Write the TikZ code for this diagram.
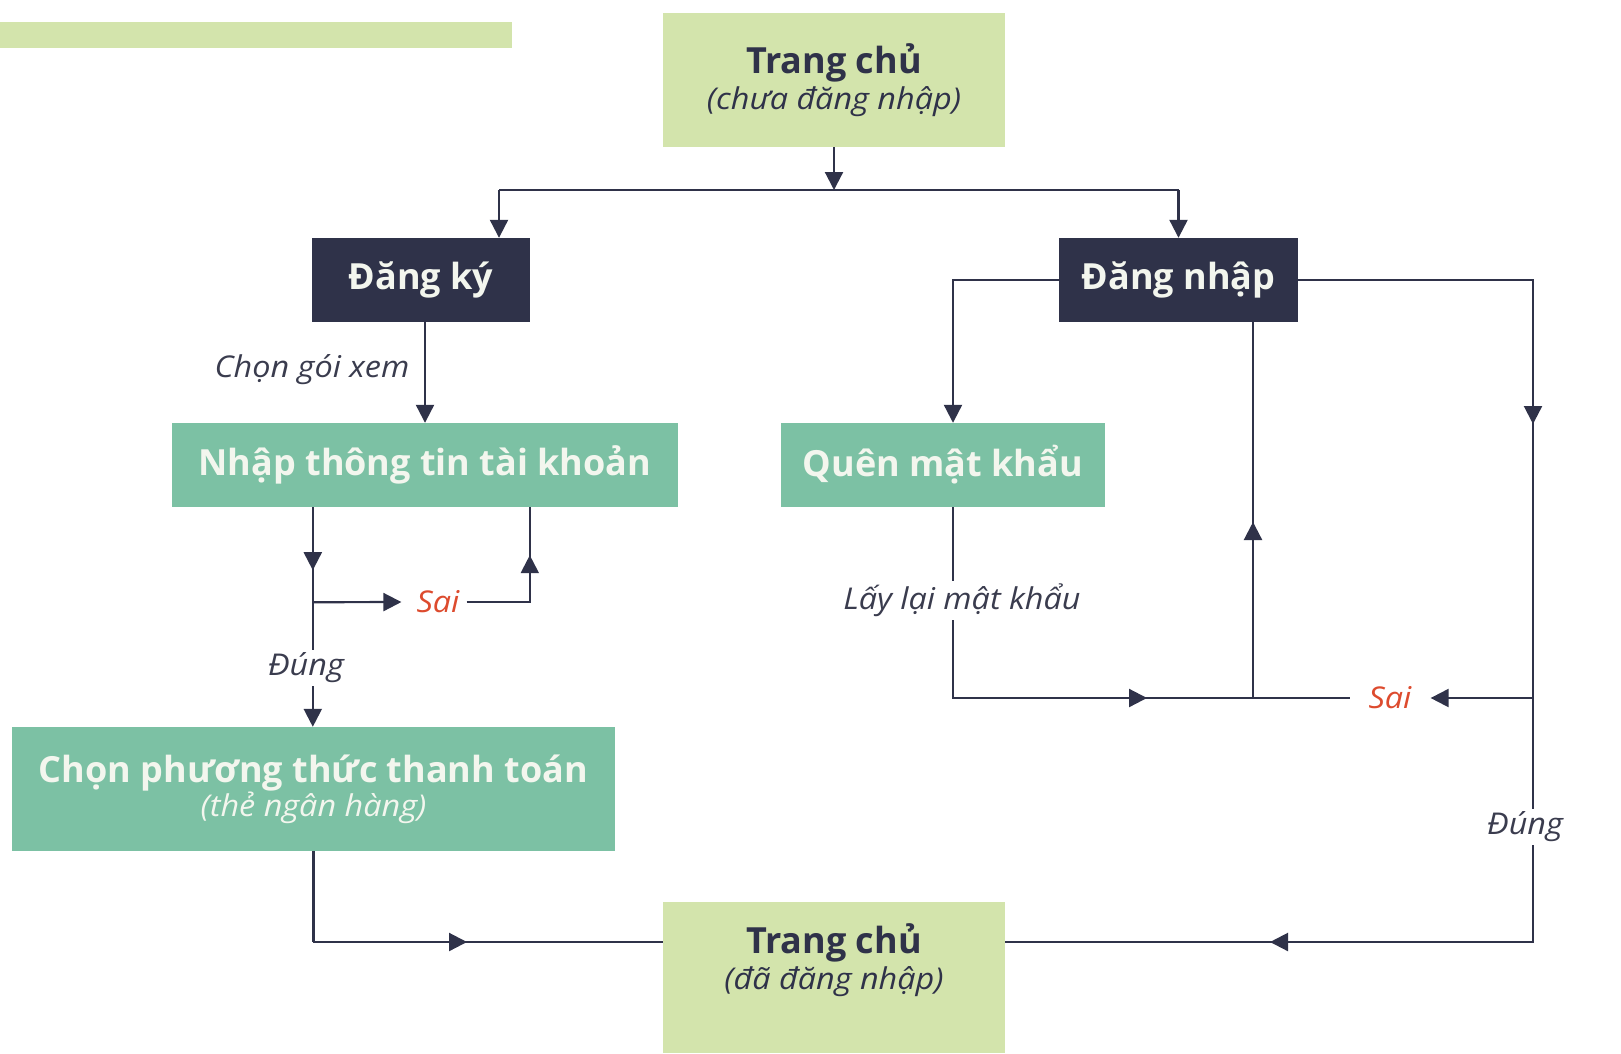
\documentclass[tikz,border=0pt]{standalone}
\usepackage{fontspec}
\setmainfont{Open Sans}
\newfontfamily\lblfont{Open Sans}[FakeStretch=1.08]
\usetikzlibrary{arrows.meta}
\definecolor{navy}{HTML}{2F3249}
\definecolor{lgreen}{HTML}{D3E4AC}
\definecolor{tealbox}{HTML}{7CC1A4}
\definecolor{saired}{HTML}{DD4B2E}
\definecolor{boxtxt}{HTML}{F3F6EE}
\definecolor{lbltxt}{HTML}{3A3C4E}
\newcommand{\subline}[1]{{\lblfont\fontsize{30}{34}\selectfont\mdseries\itshape #1}}
\begin{document}
\begin{tikzpicture}[x=1pt,y=-1pt,
  box/.style={rectangle, inner sep=0pt, align=center,
    font=\fontsize{36}{42}\selectfont\bfseries},
  lightbox/.style={box, fill=lgreen, text=navy},
  darkbox/.style={box, fill=navy, text=boxtxt},
  greenbox/.style={box, fill=tealbox, text=boxtxt},
  conn/.style={draw=navy, line width=2.2pt},
  tip/.style={-{Triangle[length=18pt,width=18pt]}},
  lbl/.style={font=\lblfont\fontsize{30}{34}\selectfont\itshape, text=lbltxt, inner sep=3pt},
  sailbl/.style={lbl, text=saired}
]
\useasboundingbox (0,0) rectangle (1621,1053);
\fill[white] (0,0) rectangle (1621,1053);
% decorative bar
\fill[lgreen] (0,22) rectangle (512,48);

% nodes
\node[lightbox, minimum width=342pt, minimum height=134pt] (tc1) at (834,80)
  {Trang chủ\\[-6pt]\subline{(chưa đăng nhập)}};
\node[darkbox, minimum width=218pt, minimum height=84pt] (dk) at (421,280) {Đăng ký};
\node[darkbox, minimum width=239pt, minimum height=84pt] (dn) at (1178.5,280) {Đăng nhập};
\node[greenbox, minimum width=506pt, minimum height=84pt] (ntt) at (425,465) {Nhập thông tin tài khoản};
\node[greenbox, minimum width=324pt, minimum height=84pt] (qmk) at (943,465) {Quên mật khẩu};
\node[greenbox, minimum width=603pt, minimum height=124pt] (cpt) at (313.5,789)
  {Chọn phương thức thanh toán\\[-8pt]\subline{(thẻ ngân hàng)}};
\fill[lgreen] (663,1000) rectangle (1005,1053);
\node[lightbox, minimum width=342pt, minimum height=116pt] (tc2) at (834,960)
  {Trang chủ\\[-6pt]\subline{(đã đăng nhập)}};

% labels
\node[lbl] (chon) at (312,370) {Chọn gói xem};
\node[lbl] (dung1) at (306,668) {Đúng};
\node[sailbl] (sai1) at (438,602) {Sai};
\node[sailbl] (sai2) at (1390,698) {Sai};
\node[lbl] (dung2) at (1525,827) {Đúng};

% coordinates
\coordinate (j1) at (834,190);
\coordinate (n1) at ([xshift=141pt]ntt.south west);
\coordinate (n2) at ([xshift=358pt]ntt.south west);
\coordinate (b1) at ([yshift=-95pt]n1);
\coordinate (cb) at (313,942);
\coordinate (q1) at ([xshift=10pt]qmk.south);
\coordinate (qb) at (953,698);
\coordinate (ub) at (1253,698);
\coordinate (rt) at (1533,280);
\coordinate (rs) at (1533,698);
\coordinate (rb) at (1533,942);

% top
\draw[conn,tip] (tc1.south) -- (j1);
\draw[conn] ([xshift=78pt]dk.north |- j1) -- (dn.north |- j1);
\draw[conn,tip] ([xshift=78pt]dk.north |- j1) -- ([xshift=78pt]dk.north);
\draw[conn,tip] (dn.north |- j1) -- (dn.north);

% left column
\draw[conn,tip] (ntt.north |- dk.south) -- (ntt.north);
\draw[conn] (n1) -- (dung1.north -| n1);
\draw[conn,tip] (n1) -- ++(0,63);
\draw[conn,tip] (dung1.south -| n1) -- (cpt.north -| n1);
\draw[conn,tip,shorten >=12pt] (b1) -- (sai1.west);
\draw[conn] ([xshift=4pt]sai1.east) -| (n2);
\draw[conn,tip] (sai1.east -| n2) -- ([yshift=-48pt]n2);
\draw[conn] (cpt.south) |- (cb) -- (cb -| tc2.west);
\draw[conn,tip] (cb) -- ++(154,0);

% right part
\draw[conn,tip] (dn.west) -| (q1 |- qmk.north);
\draw[conn] (q1) -- (qb) -- ([xshift=-15pt]sai2.west);
\draw[conn,tip] (qb) -- ++(194,0);
\draw[conn] (ub) -- (ub |- dn.south);
\draw[conn,tip] (ub) -- ++(0,-176);
\node[lbl, fill=white] (llmk) at (962,600) {Lấy lại mật khẩu};

\draw[conn] (dn.east) -- (rt) -- (dung2.north -| rt);
\draw[conn,tip] (rt) -- ++(0,144);
\draw[conn] (dung2.south -| rt) -- (rb) -- (rb -| tc2.east);
\draw[conn,tip] (rb) -- ++(-263,0);
\draw[conn,tip,shorten >=16pt] (rs) -- (sai2.east);
\end{tikzpicture}
\end{document}
